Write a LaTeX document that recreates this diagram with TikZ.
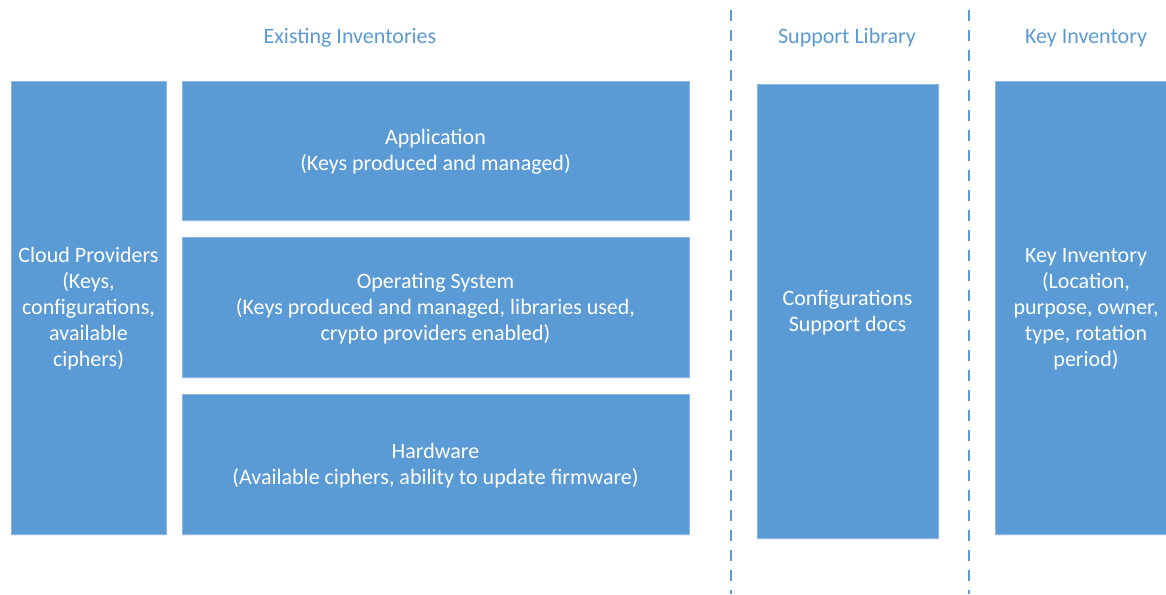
\documentclass[tikz,border=0pt]{standalone}
\usepackage{fontspec}
\setmainfont{Carlito}
\usetikzlibrary{shadows}
\definecolor{boxblue}{HTML}{5B9BD5}
\definecolor{edgeblue}{HTML}{8DB7E2}
\begin{document}
\begin{tikzpicture}[x=1pt,y=-1pt,
  block/.style={fill=boxblue,draw=edgeblue,line width=0.6pt,
    text=white,align=center,inner sep=0pt,
    font=\fontsize{22}{26}\selectfont,
    drop shadow={shadow xshift=0pt,shadow yshift=-1.5pt,opacity=0.12,fill=boxblue}},
  header/.style={text=boxblue,font=\fontsize{22}{26}\selectfont,anchor=center},
  divider/.style={draw=boxblue,line width=1.5pt,dash pattern=on 11pt off 9pt}]
\useasboundingbox (0,0) rectangle (1166,594);
\clip (0,0) rectangle (1166,594);

% section headings
\node[header] (hExist) at (350,38) {Existing Inventories};
\node[header] (hSupp) at (847,38) {Support Library};
\node[header] (hKey) at (1086,38) {Key Inventory};

% section dividers
\coordinate (d1top) at (731,10);
\coordinate (d1bot) at (731,594);
\coordinate (d2top) at (969,10);
\coordinate (d2bot) at (969,594);
\draw[divider] (d1top) -- (d1bot);
\draw[divider] (d2top) -- (d2bot);

% blocks
\draw[block] (11,81) rectangle (166,534) node[midway,yshift=-1.5pt] (cloud)
  {Cloud Providers\\(Keys,\\configurations,\\available\\ciphers)};
\draw[block] (182,81) rectangle (689,220) node[midway,yshift=-1.5pt] (app)
  {Application\\(Keys produced and managed)};
\draw[block] (182,237) rectangle (689,377) node[midway,yshift=-1.5pt] (os)
  {Operating System\\(Keys produced and managed, libraries used,\\crypto providers enabled)};
\draw[block] (182,394) rectangle (689,534) node[midway,yshift=-1.5pt] (hw)
  {Hardware\\(Available ciphers, ability to update firmware)};
\draw[block] (757,84) rectangle (938,538) node[midway,yshift=-1.5pt] (supp)
  {Configurations\\Support docs};
\draw[block] (995,81) rectangle (1177,534) node[midway,yshift=-1.5pt] (keyinv)
  {Key Inventory\\(Location,\\purpose, owner,\\type, rotation\\period)};
\end{tikzpicture}
\end{document}
